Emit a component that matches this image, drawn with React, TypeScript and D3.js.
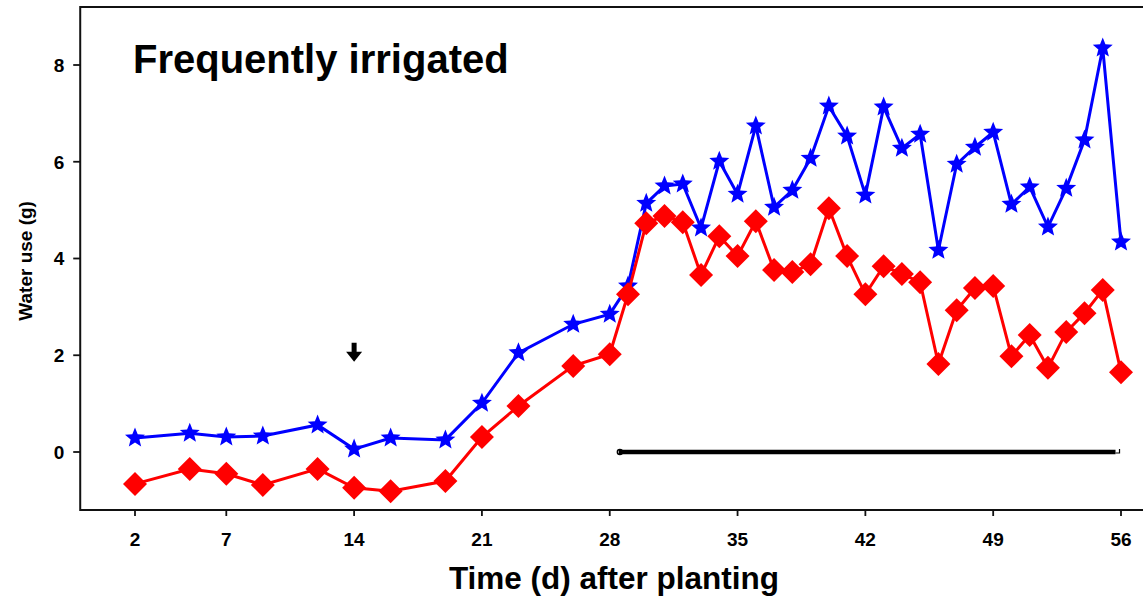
import React, { useEffect, useRef } from 'react';
import * as d3 from 'd3';

// days after planting for each measurement
const days = [2, 5, 7, 9, 12, 14, 16, 19, 21, 23, 26, 28,
  29, 30, 31, 32, 33, 34, 35, 36, 37, 38, 39, 40, 41, 42,
  43, 44, 45, 46, 47, 48, 49, 50, 51, 52, 53, 54, 55, 56];

// blue stars
const starValues = [0.29, 0.39, 0.31, 0.33, 0.56, 0.06, 0.29, 0.25, 1.01, 2.05, 2.64, 2.85,
  3.43, 5.14, 5.5, 5.54, 4.63, 6.01, 5.33, 6.74, 5.06, 5.41, 6.07, 7.15, 6.53, 5.31,
  7.13, 6.28, 6.57, 4.17, 5.95, 6.3, 6.61, 5.12, 5.48, 4.65, 5.45, 6.45, 8.35, 4.34];

// red diamonds
const diamondValues = [-0.66, -0.35, -0.45, -0.68, -0.35, -0.74, -0.81, -0.6, 0.31, 0.95, 1.78, 2.02,
  3.26, 4.73, 4.88, 4.75, 3.66, 4.46, 4.05, 4.77, 3.76, 3.72, 3.88, 5.04, 4.05, 3.26,
  3.84, 3.68, 3.51, 1.82, 2.93, 3.39, 3.43, 1.98, 2.42, 1.74, 2.48, 2.87, 3.35, 1.65];

const xTicks = [2, 7, 14, 21, 28, 35, 42, 49, 56];
const yTicks = [0, 2, 4, 6, 8];

// thick black bar along zero, and the arrow marker
const barRange = [28.5, 55.7];
const arrowPoint = { day: 14, value: 2.05 };

const W = 1143;
const H = 599;
const FONT = 'Arial, "Liberation Sans", Helvetica, sans-serif';

function starPath(cx: number, cy: number, R: number, r: number) {
  const pts: string[] = [];
  for (let i = 0; i < 10; i++) {
    const rad = i % 2 === 0 ? R : r;
    const a = -Math.PI / 2 + (i * Math.PI) / 5;
    pts.push((cx + rad * Math.cos(a)).toFixed(2) + ',' + (cy + rad * Math.sin(a)).toFixed(2));
  }
  return 'M' + pts.join('L') + 'Z';
}

function diamondPath(cx: number, cy: number, h: number) {
  return `M${cx},${cy - h}L${cx + h},${cy}L${cx},${cy + h}L${cx - h},${cy}Z`;
}

export default function App() {
  const ref = useRef<SVGGElement>(null);

  useEffect(() => {
    const x = d3.scaleLinear().domain([2, 56]).range([135, 1121]);
    const y = d3.scaleLinear().domain([0, 8]).range([452, 65]);
    const left = x(-1);
    const top = 7;
    const bottom = 510;

    const g = d3.select(ref.current);
    g.selectAll('*').remove();

    // frame
    g.append('path')
      .attr('d', `M${W + 5},${top}H${left}V${bottom}H${W + 5}`)
      .attr('fill', 'none')
      .attr('stroke', '#111')
      .attr('stroke-width', 2);

    // x ticks
    const xt = g.selectAll('.xt').data(xTicks).enter().append('g').attr('class', 'xt')
      .attr('transform', d => `translate(${x(d)},${bottom})`);
    xt.append('line').attr('y1', 0).attr('y2', 6).attr('stroke', '#111').attr('stroke-width', 1.8);
    xt.append('text').attr('y', 36).attr('text-anchor', 'middle')
      .style('font-family', FONT).style('font-weight', 'bold').style('font-size', '19px')
      .text(d => d);

    // y ticks
    const yt = g.selectAll('.yt').data(yTicks).enter().append('g').attr('class', 'yt')
      .attr('transform', d => `translate(${left},${y(d)})`);
    yt.append('line').attr('x1', 0).attr('x2', -7).attr('stroke', '#111').attr('stroke-width', 1.8);
    yt.append('text').attr('x', -16).attr('dy', '0.36em').attr('text-anchor', 'end')
      .style('font-family', FONT).style('font-weight', 'bold').style('font-size', '19px')
      .text(d => d);

    // axis titles
    g.append('text')
      .attr('x', 614).attr('y', 589).attr('text-anchor', 'middle')
      .style('font-family', FONT).style('font-weight', 'bold').style('font-size', '31.5px')
      .text('Time (d) after planting');
    g.append('text')
      .attr('transform', `translate(32,${y(3.95)}) rotate(-90)`)
      .attr('text-anchor', 'middle')
      .style('font-family', FONT).style('font-weight', 'bold').style('font-size', '19px')
      .text('Water use (g)');

    // panel title
    g.append('text')
      .attr('x', 133).attr('y', 73)
      .style('font-family', FONT).style('font-weight', 'bold').style('font-size', '40px')
      .text('Frequently irrigated');

    // black bar
    const by = y(0);
    g.append('line')
      .attr('x1', x(barRange[0])).attr('x2', x(barRange[1]))
      .attr('y1', by).attr('y2', by)
      .attr('stroke', '#000').attr('stroke-width', 4.5);
    g.append('circle').attr('cx', x(barRange[0]) + 1).attr('cy', by).attr('r', 2.5)
      .attr('fill', 'none').attr('stroke', '#000').attr('stroke-width', 1.5);
    g.append('path')
      .attr('d', `M${x(barRange[1])},${by + 1}H${x(barRange[1]) + 4}V${by - 3}`)
      .attr('fill', 'none').attr('stroke', '#000').attr('stroke-width', 1.2);

    // arrow
    const ax = x(arrowPoint.day);
    const ay = y(arrowPoint.value);
    g.append('path')
      .attr('d', `M${ax - 2.5},${ay - 10}H${ax + 2.5}V${ay - 1}H${ax + 8}L${ax},${ay + 9}L${ax - 8},${ay - 1}H${ax - 2.5}Z`)
      .attr('fill', '#000');

    const line = d3.line<number>()
      .x((d, i) => x(days[i]))
      .y(d => y(d));

    // blue series
    g.append('path').datum(starValues).attr('d', line)
      .attr('fill', 'none').attr('stroke', '#0000ff').attr('stroke-width', 3);
    g.selectAll('.star').data(starValues).enter().append('path').attr('class', 'star')
      .attr('d', (d, i) => starPath(x(days[i]), y(d), 10.5, 4.6))
      .attr('fill', '#0000ff');

    // red series
    g.append('path').datum(diamondValues).attr('d', line)
      .attr('fill', 'none').attr('stroke', '#ff0000').attr('stroke-width', 3);
    g.selectAll('.dia').data(diamondValues).enter().append('path').attr('class', 'dia')
      .attr('d', (d, i) => diamondPath(x(days[i]), y(d), 12))
      .attr('fill', '#ff0000');
  }, []);

  return (
    <svg width={W} height={H} style={{ position: 'absolute', left: 0, top: 0, background: '#fff' }}>
      <g ref={ref} />
    </svg>
  );
}
